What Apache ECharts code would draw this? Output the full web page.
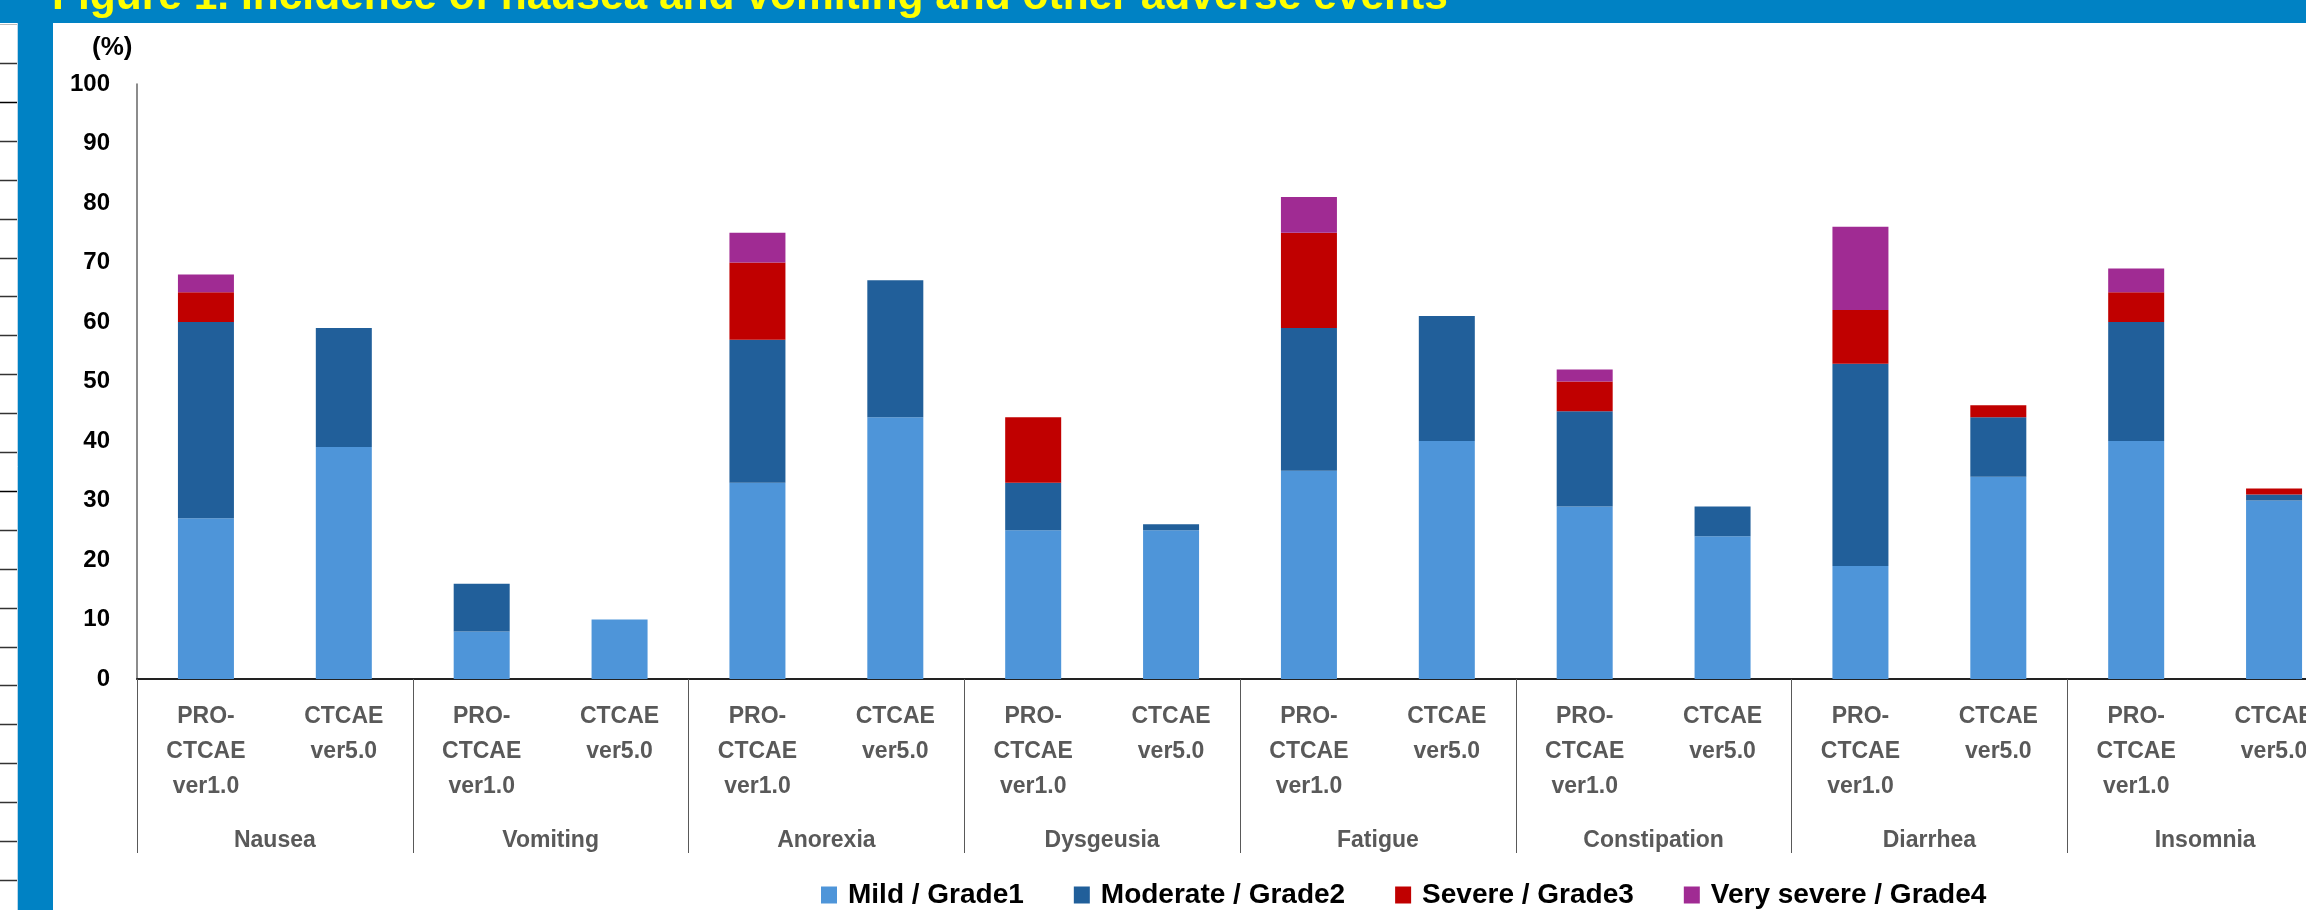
<!DOCTYPE html>
<html>
<head>
<meta charset="utf-8">
<title>Figure 1</title>
<script src="https://cdn.jsdelivr.net/npm/echarts@6/dist/echarts.min.js"></script>
<style>
  html, body { margin: 0; padding: 0; background: #fff; overflow: hidden; }
  /* 图表比窗口略宽, 右侧被裁掉 (与原图一致) */
  #main { width: 2350px; height: 910px; }
</style>
</head>
<body>
<div id="main"></div>
<script>
// 分组 / 子类别
var groups = ['Nausea', 'Vomiting', 'Anorexia', 'Dysgeusia', 'Fatigue', 'Constipation', 'Diarrhea', 'Insomnia'];
var subLabels = ['PRO-\nCTCAE\nver1.0', 'CTCAE\nver5.0'];

// 每个等级的增量 (%), 顺序: 每组 PRO-CTCAE, CTCAE
var mild       = [27, 39,  8, 10, 33, 44, 25, 25, 35, 40, 29, 24, 19, 34, 40, 30];
var moderate   = [33, 20,  8,  0, 24, 23,  8,  1, 24, 21, 16,  5, 34, 10, 20,  1];
var severe     = [ 5,  0,  0,  0, 13,  0, 11,  0, 16,  0,  5,  0,  9,  2,  5,  1];
var verySevere = [ 3,  0,  0,  0,  5,  0,  0,  0,  6,  0,  2,  0, 14,  0,  4,  0];

var seriesNames = ['Mild / Grade1', 'Moderate / Grade2', 'Severe / Grade3', 'Very severe / Grade4'];
var seriesColors = ['#4E95D9', '#215F9A', '#C00000', '#A02B93'];

var titleText = 'Figure 1. Incidence of nausea and vomiting and other adverse events';

var categories = [];
groups.forEach(function () {
    subLabels.forEach(function (s) { categories.push(s); });
});

var font = '"Liberation Sans", Arial, sans-serif';
var blue = '#0082C4';

// 左侧装饰 (幻灯片的边框和表格线)
var deco = [
    { type: 'rect', shape: { x: 0, y: 0, width: 2350, height: 23 }, style: { fill: blue }, z: 10 },
    { type: 'rect', shape: { x: 18, y: 23, width: 35, height: 887 }, style: { fill: blue }, z: 10 },
    { type: 'line', shape: { x1: 17.5, y1: 23, x2: 17.5, y2: 910 }, style: { stroke: '#bcd7ea', lineWidth: 1 }, z: 10 },
    { type: 'line', shape: { x1: 0, y1: 24.5, x2: 17, y2: 24.5 }, style: { stroke: '#bbbbbb', lineWidth: 1 }, z: 10 }
];
for (var i = 0; i < 22; i++) {
    var ly = Math.round(63 + i * 38.9) + 0.5;
    deco.push({
        type: 'line',
        shape: { x1: 0, y1: ly, x2: 17, y2: ly },
        style: { stroke: (i === 1 || i === 11) ? '#000' : '#333', lineWidth: 1.5 },
        z: 10
    });
}
deco.push({
    type: 'text', left: 52, top: -24, z: 11,
    style: { text: titleText, fill: '#FFFF00', font: 'bold 42.5px ' + font }
});
deco.push({
    type: 'text', left: 92, top: 35, z: 11,
    style: { text: '(%)', fill: '#000', font: 'bold 26px ' + font }
});

var myChart = echarts.init(document.getElementById('main'));
var option = {
    backgroundColor: '#fff',
    animation: false,
    graphic: deco,
    legend: {
        data: seriesNames,
        left: 816,
        top: 876,
        icon: 'rect',
        itemWidth: 16,
        itemHeight: 17,
        itemGap: 50,
        textStyle: {
            fontFamily: font, fontSize: 28, fontWeight: 'bold', color: '#000',
            padding: [0, 0, 0, 6]
        }
    },
    grid: { left: 137, top: 84, right: 7, height: 595 },
    xAxis: [
        {
            type: 'category',
            data: categories,
            position: 'bottom',
            axisLine: { lineStyle: { color: '#222', width: 2 } },
            axisTick: { show: false },
            axisLabel: {
                interval: 0, margin: 20,
                fontFamily: font, fontSize: 23, fontWeight: 'bold', color: '#595959',
                lineHeight: 35
            }
        },
        {
            type: 'category',
            data: groups,
            position: 'bottom',
            axisLine: { show: false },
            axisTick: { show: true, length: 174, interval: 0, lineStyle: { color: '#595959', width: 1 } },
            axisLabel: {
                interval: 0, margin: 144,
                fontFamily: font, fontSize: 23, fontWeight: 'bold', color: '#595959',
                lineHeight: 35
            }
        }
    ],
    yAxis: {
        type: 'value',
        min: 0, max: 100, interval: 10,
        axisLine: { show: true, lineStyle: { color: '#666', width: 1.5 } },
        axisTick: { show: false },
        splitLine: { show: false },
        axisLabel: {
            margin: 27,
            fontFamily: font, fontSize: 24, fontWeight: 'bold', color: '#000'
        }
    },
    series: [mild, moderate, severe, verySevere].map(function (vals, k) {
        return {
            name: seriesNames[k],
            type: 'bar',
            stack: 'grade',
            xAxisIndex: 0,
            barWidth: 56,
            itemStyle: { color: seriesColors[k] },
            data: vals
        };
    })
};
myChart.setOption(option);
</script>
</body>
</html>
